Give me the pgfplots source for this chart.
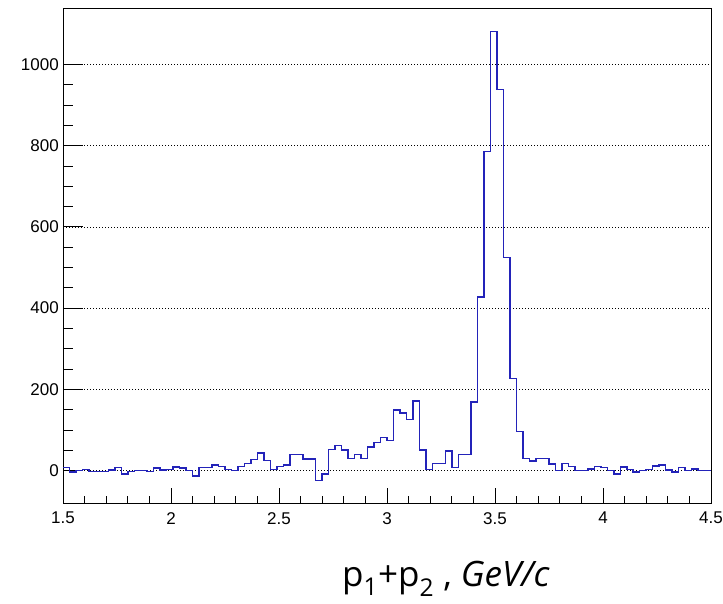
\documentclass[border=0pt]{standalone}
\usepackage{fontspec}
\setmainfont{Liberation Sans}
\newfontfamily\labelfont{Open Sans}
\usepackage{pgfplots}
\usepackage{pgfplotstable}
\pgfplotsset{compat=1.18}
\definecolor{histblue}{RGB}{35,35,185}
\pgfplotstableread{
x y
1.50 7
1.53 -4
1.56 0
1.59 3
1.62 -3
1.65 -3
1.68 -3
1.71 1
1.74 7
1.77 -8
1.80 -3
1.83 0
1.86 0
1.89 -3
1.92 6
1.95 1
1.98 3
2.01 9
2.04 6
2.07 0
2.10 -13
2.13 7
2.16 7
2.19 14
2.22 10
2.25 3
2.28 0
2.31 10
2.34 17
2.37 27
2.40 43
2.43 25
2.46 3
2.49 10
2.52 13
2.55 40
2.58 40
2.61 28
2.64 28
2.67 -25
2.70 -8
2.73 52
2.76 61
2.79 50
2.82 29
2.85 40
2.88 29
2.91 58
2.94 69
2.97 81
3.00 74
3.03 149
3.06 142
3.09 126
3.12 171
3.15 51
3.18 3
3.21 17
3.24 17
3.27 48
3.30 7
3.33 39
3.36 39
3.39 169
3.42 427
3.45 785
3.48 1081
3.51 938
3.54 524
3.57 226
3.60 96
3.63 29
3.66 23
3.69 29
3.72 29
3.75 16
3.78 0
3.81 17
3.84 10
3.87 0
3.90 0
3.93 4
3.96 10
3.99 7
4.02 0
4.05 -9
4.08 9
4.11 3
4.14 -4
4.17 0
4.20 3
4.23 11
4.26 14
4.29 1
4.32 -4
4.35 7
4.38 0
4.41 4
4.44 0
4.47 0
4.50 0
}\histdata
\begin{document}
\begin{tikzpicture}[x=1pt,y=1pt]
\useasboundingbox (0,0) rectangle (723,604);
\begin{axis}[
  at={(63pt,101pt)}, anchor=south west,
  width=648pt, height=495pt, scale only axis,
  xmin=1.5, xmax=4.5, ymin=-80, ymax=1139,
  xtick={1.5,2,2.5,3,3.5,4,4.5},
  xticklabels={1.5,2,2.5,3,3.5,4,4.5},
  ytick={0,200,400,600,800,1000},
  minor x tick num=4, minor y tick num=3,
  xtick pos=bottom, ytick pos=left,
  tick align=inside,
  major tick length=20pt, minor tick length=10pt,
  major x tick style={/pgfplots/major tick length=15pt},
  minor x tick style={/pgfplots/minor tick length=7pt},
  tick style={black, line width=0.8pt},
  axis line style={black, line width=0.8pt},
  ymajorgrids,
  major grid style={black, line width=0.6pt, dash pattern=on 1pt off 2pt},
  /pgf/number format/assume math mode=true,
  /pgf/number format/1000 sep={},
  scaled y ticks=false,
  yticklabel style={font=\fontsize{17}{17}\selectfont, inner sep=0pt, xshift=-4pt},
  xticklabel style={font=\fontsize{17}{17}\selectfont, inner sep=0pt, yshift=-9pt},
]
\addplot[const plot, histblue, line width=1.5pt] table[x=x,y=y]{\histdata};
\end{axis}
\node[anchor=base, font=\labelfont\fontsize{35}{35}\selectfont] at (446,17) {p\textsubscript{1}+p\textsubscript{2} , \textit{GeV/c}};
\end{tikzpicture}
\end{document}
